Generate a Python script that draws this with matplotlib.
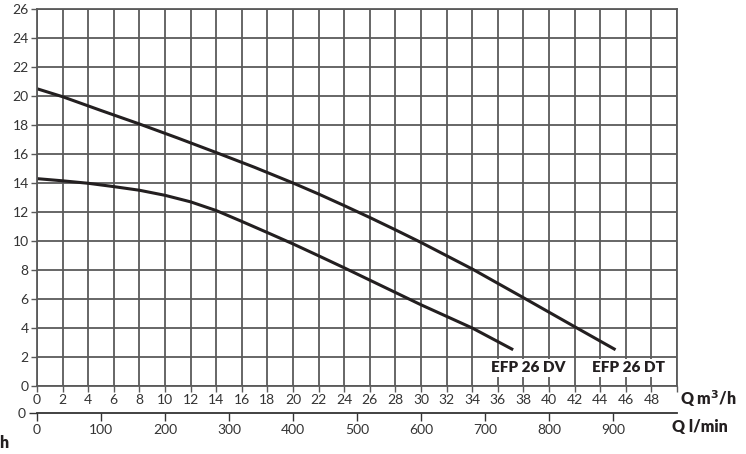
import matplotlib
matplotlib.use("Agg")
import matplotlib.pyplot as plt
import numpy as np

plt.rcParams['font.family'] = ['Lato', 'DejaVu Sans']

# curve readings, Q in m3/h, H in m
q_dv = [0, 2, 4, 6, 8, 10, 12, 14, 16, 18, 20, 22, 24, 26, 28, 30, 32, 34, 37.2]
h_dv = [14.3, 14.15, 13.98, 13.75, 13.5, 13.15, 12.7, 12.1, 11.35, 10.58, 9.8, 8.98, 8.15, 7.3, 6.45, 5.6, 4.8, 4.0, 2.5]
q_dt = [0, 2, 5, 8, 11, 14, 17, 20, 22, 24, 26, 28, 30, 34, 38, 42, 45.2]
h_dt = [20.5, 19.95, 19.0, 18.07, 17.1, 16.1, 15.08, 14.0, 13.24, 12.44, 11.62, 10.77, 9.9, 8.07, 6.09, 4.09, 2.5]
labels = ["EFP 26 DV", "EFP 26 DT"]
label_pos = [(38.4, 1.25), (46.2, 1.25)]

yticks = np.arange(0, 27, 2)
xticks = np.arange(0, 50, 2)
lmin_ticks = np.arange(0, 1000, 100)

fig = plt.figure(figsize=(7.46, 4.54), dpi=100)
ax = fig.add_axes([0.0496, 0.1498, 0.8579, 0.8304])
ax.set_xlim(0, 50)
ax.set_ylim(0, 26)
ax.set_xticks(np.arange(0, 51, 2))
ax.set_xticklabels([str(v) for v in xticks] + [""])
ax.set_yticks(yticks)
ax.grid(True, color="#5a5a5a", linewidth=1.3)
ax.set_axisbelow(True)
for s in ax.spines.values():
    s.set_color("#5a5a5a")
    s.set_linewidth(1.3)
ax.tick_params(direction="out", length=4, width=1.0, color="#5a5a5a",
               labelsize=10, labelcolor="#333333", pad=2)

ax.plot(q_dv, h_dv, color="#231f20", linewidth=2.2, solid_capstyle="butt")
ax.plot(q_dt, h_dt, color="#231f20", linewidth=2.2, solid_capstyle="butt")

for lab, (x, y) in zip(labels, label_pos):
    ax.text(x, y, lab, ha="center", va="center", fontsize=11, fontweight="heavy",
            color="#231f20", bbox=dict(facecolor="white", edgecolor="none", pad=1.5))

# second scale l/min
ax2 = fig.add_axes([0.0496, 0.0903, 0.8579, 0.001])
ax2.set_xlim(0, 1000)
ax2.set_ylim(0, 1)
ax2.set_xticks(lmin_ticks)
ax2.set_yticks([0])
ax2.set_yticklabels(["0"])
ax2.patch.set_visible(False)
for side in ["top", "right", "left"]:
    ax2.spines[side].set_visible(False)
ax2.spines["bottom"].set_color("#333333")
ax2.spines["bottom"].set_linewidth(1.3)
ax2.tick_params(direction="out", length=6, width=1.0, color="#333333",
                labelsize=10, labelcolor="#333333", pad=2)

fig.text(0.9115, 0.121, "Q m$^\\mathbf{3}$/h", fontsize=11.5, fontweight="heavy",
         color="#231f20", va="center", ha="left")
fig.text(0.9010, 0.059, "Q l/min", fontsize=11.5, fontweight="heavy",
         color="#231f20", va="center", ha="left")
fig.text(0.011, 0.025, "h", fontsize=11.5, fontweight="heavy",
         color="#231f20", va="center", ha="right")

fig.savefig("out.png", dpi=100)
